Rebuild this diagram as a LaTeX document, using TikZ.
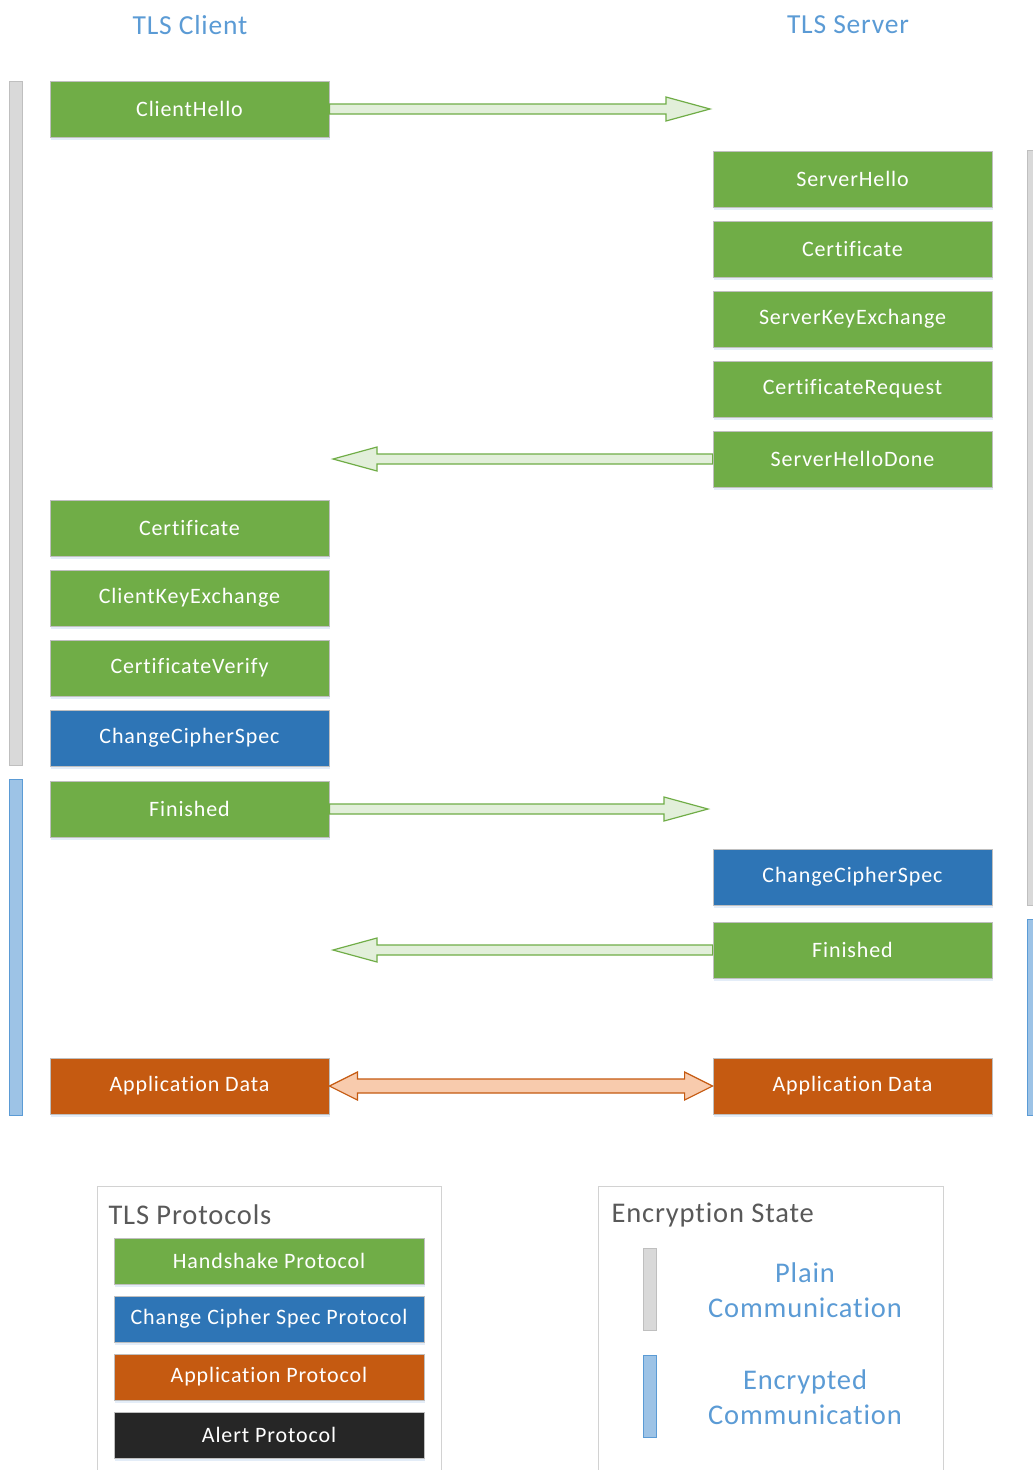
\documentclass[tikz,border=0pt]{standalone}
\usepackage{fontspec}
\setmainfont{Carlito}[Ligatures=NoCommon]
\newfontfamily\boxfont{Carlito}[LetterSpace=4,Ligatures=NoCommon]
\newfontfamily\headfont{Carlito}[LetterSpace=3,Ligatures=NoCommon]
\usetikzlibrary{calc,shadows}

\definecolor{hsgreen}{HTML}{70AD47}
\definecolor{ccblue}{HTML}{2E75B6}
\definecolor{apporange}{HTML}{C55A11}
\definecolor{alertblack}{HTML}{262626}
\definecolor{titleblue}{HTML}{5B9BD5}
\definecolor{plaingray}{HTML}{D9D9D9}
\definecolor{plainedge}{HTML}{BFBFBF}
\definecolor{encblue}{HTML}{9DC3E6}
\definecolor{darktext}{HTML}{595959}
\definecolor{greenfill}{HTML}{E2EFDA}
\definecolor{orangefill}{HTML}{F8CBAD}
\definecolor{shadowblue}{HTML}{E4EDF8}

% fat block arrow from #2 towards #3 (head length #5 signed, shaft half #4, head half #6)
\newcommand\blockarrow[6]{%
  \draw[#1] let \p1=(#2), \p2=(#3) in
    (\x1,\y1+#4pt) -- (\x2-#5pt,\y1+#4pt) -- (\x2-#5pt,\y1+#6pt) -- (\x2,\y1)
    -- (\x2-#5pt,\y1-#6pt) -- (\x2-#5pt,\y1-#4pt) -- (\x1,\y1-#4pt) -- cycle;}
% double-headed block arrow between #2 and #3
\newcommand\dblarrow[6]{%
  \draw[#1] let \p1=(#2), \p2=(#3) in
    (\x1,\y1) -- (\x1+#5pt,\y1+#6pt) -- (\x1+#5pt,\y1+#4pt) -- (\x2-#5pt,\y1+#4pt)
    -- (\x2-#5pt,\y1+#6pt) -- (\x2,\y1) -- (\x2-#5pt,\y1-#6pt) -- (\x2-#5pt,\y1-#4pt)
    -- (\x1+#5pt,\y1-#4pt) -- (\x1+#5pt,\y1-#6pt) -- cycle;}

\begin{document}
\begin{tikzpicture}[x=1pt,y=-1pt,
  msg/.style={draw=plainedge, line width=0.8pt, text=white, minimum width=279pt,
    minimum height=56pt, inner sep=0pt, font=\boxfont\fontsize{22}{24}\selectfont,
    drop shadow={shadow xshift=1pt, shadow yshift=-3pt, fill=shadowblue, opacity=1}},
  hs/.style={msg, fill=hsgreen},
  cc/.style={msg, fill=ccblue},
  app/.style={msg, fill=apporange},
  legbox/.style={msg, minimum width=310pt, minimum height=46pt},
  side/.style={font=\headfont\fontsize{27.5}{30}\selectfont, text=titleblue},
  plainbar/.style={draw=plainedge, fill=plaingray, line width=0.8pt},
  encbar/.style={draw=titleblue, fill=encblue, line width=0.8pt},
  garrow/.style={draw=hsgreen, fill=greenfill, line width=1.2pt, line join=miter},
  oarrow/.style={draw=apporange, fill=orangefill, line width=1.2pt, line join=miter},
  frame/.style={draw=plainedge!70, line width=0.8pt},
  legtitle/.style={font=\headfont\fontsize{28.5}{30}\selectfont, text=darktext, anchor=west},
  legtext/.style={font=\headfont\fontsize{28.5}{35}\selectfont, text=titleblue, align=center}]

\clip (0,0) rectangle (1033,1470);
\fill[white] (0,0) rectangle (1033,1470);

% column titles
\node[side] (client) at (190,25) {TLS Client};
\node[side] (server) at (848,25) {TLS Server};

% encryption state bars
\draw[plainbar] (9,81) rectangle (22,765);
\draw[encbar] (9,779) rectangle (22,1115);
\draw[plainbar] (1027,150) rectangle (1040,905);
\draw[encbar] (1027,919) rectangle (1040,1115);

% client messages
\node[hs] (chello) at (189.5,109) {ClientHello};
\node[hs] (ccert) at (189.5,528) {Certificate};
\node[hs] (ckex) at (189.5,598) {ClientKeyExchange};
\node[hs] (cverify) at (189.5,668) {CertificateVerify};
\node[cc] (cccs) at (189.5,738) {ChangeCipherSpec};
\node[hs] (cfin) at (189.5,809) {Finished};
\node[app] (capp) at (189.5,1086) {Application Data};

% server messages
\node[hs] (shello) at (852.5,179) {ServerHello};
\node[hs] (scert) at (852.5,249) {Certificate};
\node[hs] (skex) at (852.5,319) {ServerKeyExchange};
\node[hs] (sreq) at (852.5,389) {CertificateRequest};
\node[hs] (sdone) at (852.5,459) {ServerHelloDone};
\node[cc] (sccs) at (852.5,877) {ChangeCipherSpec};
\node[hs] (sfin) at (852.5,950) {Finished};
\node[app] (sapp) at (852.5,1086) {Application Data};

% free ends of the flights
\coordinate (t1) at (710,109);
\coordinate (t2) at (333,459);
\coordinate (t3) at (708,809);
\coordinate (t4) at (333,950);

% flights
\blockarrow{garrow}{chello.east}{t1}{5}{44}{12}
\blockarrow{garrow}{sdone.west}{t2}{5}{-44}{12}
\blockarrow{garrow}{cfin.east}{t3}{5}{44}{12}
\blockarrow{garrow}{sfin.west}{t4}{5}{-44}{12}
\dblarrow{oarrow}{capp.east}{sapp.west}{7}{28}{14}

% legend: protocols
\draw[frame] (97,1186) rectangle (441,1480);
\node[legtitle] (ptitle) at (105,1215) {TLS Protocols};
\node[legbox, fill=hsgreen] (lhs) at (269,1261) {Handshake Protocol};
\node[legbox, fill=ccblue] (lcc) at (269,1319) {Change Cipher Spec Protocol};
\node[legbox, fill=apporange] (lapp) at (269,1377) {Application Protocol};
\node[legbox, fill=alertblack] (lalert) at (269,1435) {Alert Protocol};

% legend: encryption state
\draw[frame] (598,1186) rectangle (943,1480);
\node[legtitle] (etitle) at (608,1215) {Encryption State};
\draw[plainbar] (643,1248) rectangle (656,1330);
\draw[encbar] (643,1355) rectangle (656,1437);
\node[legtext] (lplain) at (805,1290) {Plain\\Communication};
\node[legtext] (lenc) at (805,1397) {Encrypted\\Communication};
\end{tikzpicture}
\end{document}
